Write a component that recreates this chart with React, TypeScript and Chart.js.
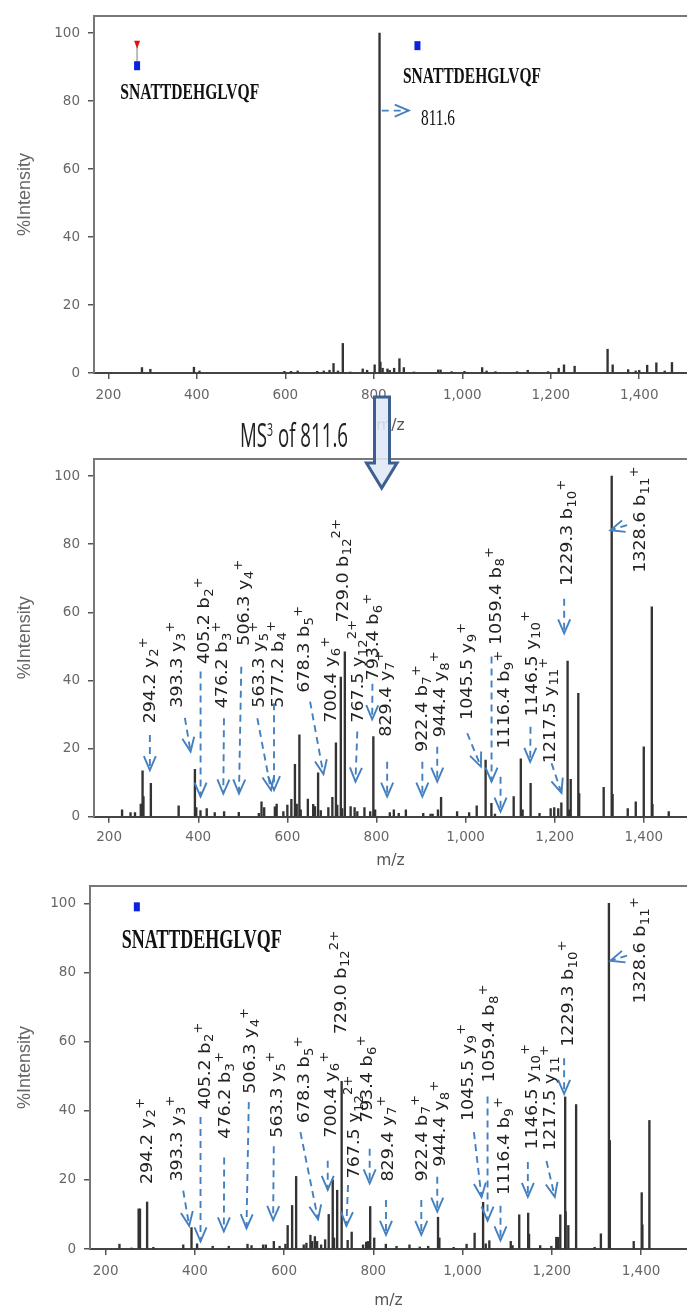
import React, { useEffect, useRef } from "react";
import { Chart, registerables } from "chart.js";
Chart.register(...registerables);

const TICK_FONT = "DejaVu Sans";
const xTicks = [200, 400, 600, 800, 1000, 1200, 1400];
const yTicks = [0, 20, 40, 60, 80, 100];
const PEPTIDE = "SNATTDEHGLVQF";
const PRECURSOR = "811.6";

// Panel 1: MS2 spectrum
const mz1 = [276,295,393.5,406,598,613,628,672,687,700,709,719,730,747,775,785,802,813,815,820,831,836,846,858,868,891,945.5,951,976,1005,1045,1055,1075,1124,1148,1194,1218,1230,1254,1328.5,1340,1375,1392,1400,1418,1438.7,1457.6,1474];
const int1 = [1.6,1.1,1.7,0.6,0.5,0.5,0.6,0.5,0.6,0.8,2.8,0.6,8.7,0.3,1.2,0.8,2.4,100,3.2,1.4,1.2,0.8,1.4,4.2,1.6,0.3,0.9,0.9,0.4,0.5,1.6,0.6,0.4,0.4,0.8,0.4,1.4,2.4,2,7,2.4,1,0.6,0.8,2.3,3,0.6,3.1];

// Panel 2: MS3 of 811.6
const mz2 = [229,248,258,271,275,277,293.6,356,392.5,395.5,405,419,437,458,491,536,542,548,572,576,591,600,609,617,621,627,630,646,658,662,669,675,692,701,709,712,720,723,729,742,751,757,773,786,793,797,830,839,850,866,905,921.5,926,938,945,981,1008,1025,1045,1058,1066,1108,1124,1128,1146,1166,1191,1199,1208,1215,1229,1232.5,1236,1253,1255,1310,1328,1330,1364,1382,1400,1418,1419.5,1456];
const int2 = [2,1.2,1.2,3.7,13.5,5.9,9.8,3.2,13.9,2.7,1.8,2.4,1.2,1.5,1.3,1,4.4,2.7,2.9,3.7,1.5,3.4,5.1,15.4,3.7,24,2,5.2,3.6,3,12.9,1.8,2.7,5.7,21.7,3.4,41,2.4,48.4,3,2.7,1.5,2.7,1.5,23.5,2,1.2,2,1,2,1,0.8,0.8,2,5.7,1.5,1.2,3.2,16.6,3.9,0.8,5.9,17,2,9.8,1,2.4,2.7,2.4,4.1,45.7,2,11,36.2,6.8,8.6,100,6.6,2.4,4.4,20.5,61.6,3.6,1.5];

// Panel 3: reference spectrum
const mz3 = [231,258,274,277,293,307,374,392.5,405,440,476,518,527,553,559,577,590,603,608,618,627,644,650,659,663,669,674,683,692,700,709,712,719,729,742.5,751.5,777,784,788,793,802,828,852,881,904,923,945,948,980,1009,1027,1046,1052,1060,1108,1112,1127,1147,1149,1174,1199,1210,1214,1219,1230,1231,1237,1254.5,1296,1310,1328,1330,1383.6,1401.5,1403,1418.7];
const int3 = [1.4,0.3,11.6,11.6,13.6,0.5,1.2,6.2,1.5,0.8,0.8,1.4,1,1.2,1.2,2.2,0.8,1.4,6.8,12.6,21,1.2,1.7,4,2.2,3.6,2.2,1.2,2.7,10,20,3.2,17,48.5,2.5,4.9,1.2,2,2.2,12.3,3.2,1.4,0.8,1.2,0.6,0.8,9.2,3.2,0.5,1.4,4.6,13.5,1.5,2.4,2.2,1,9.9,10.4,4.3,1,0.8,3.4,3.4,9.9,44,10.8,6.8,41.8,0.5,4.4,100,31.4,2.2,16.3,7,37.2];

// Fragment labels: [main text, subscript, superscript, m/z anchor, % anchor]
type Lab = [string, string, string, number, number];
const labels2: Lab[] = [
  ["294.2 y","2","+",289,27.4],["393.3 y","3","+",350,32],["405.2 b","2","+",411,44.8],["476.2 b","3","+",452,31.8],
  ["506.3 y","4","+",501,50.2],["563.3 y","5","+",535,32],["577.2 b","4","+",576,32],["678.3 b","5","+",636,36.4],
  ["700.4 y","6","+",696,27.6],["729.0 b","12","2+",722,57],["767.5 y","12","2+",757,27.6],["793.4 b","6","+",791,40],
  ["829.4 y","7","+",819,23.5],["922.4 b","7","+",900,19],["944.4 y","8","+",941,23.3],["1045.5 y","9","+",1002,28.4],
  ["1059.4 b","8","+",1066,50.4],["1116.4 b","9","+",1084.5,20],["1146.5 y","10","+",1146.5,29.4],["1217.5 y","11","+",1187,15.7],
  ["1229.3 b","10","+",1226.5,67.7],["1328.6 b","11","+",1389.5,71.6],
];
const labels3: Lab[] = [
  ["294.2 y","2","+",290,18.8],["393.3 y","3","+",356.7,19.5],["405.2 b","2","+",419.4,40.4],["476.2 b","3","+",465.7,31.9],
  ["506.3 y","4","+",521.6,44.9],["563.3 y","5","+",581,32.2],["678.3 b","5","+",642.5,36.4],["700.4 y","6","+",702,32.2],
  ["729.0 b","12","2+",724.6,62.1],["767.5 y","12","2+",754.5,20.4],["793.4 b","6","+",784,36.7],["829.4 y","7","+",829.9,19.5],
  ["922.4 b","7","+",906,19.5],["944.4 y","8","+",947.8,23.8],["1045.5 y","9","+",1009,37],["1059.4 b","8","+",1057.5,48.2],
  ["1116.4 b","9","+",1091,15.6],["1146.5 y","10","+",1153,28.8],["1217.5 y","11","+",1194,28.4],["1229.3 b","10","+",1235,58.5],
  ["1328.6 b","11","+",1395.5,71],
];

// Dashed arrows: [from m/z, from %, tip m/z, tip %]
type Arr = [number, number, number, number];
const arrows1: Arr[] = [[818,77.2,879,77.2]];
const arrows2: Arr[] = [
  [291.4,24,291.4,13.7],[370,29,382.8,19.1],[405.2,42.6,405.2,5.9],[457.7,28.9,456.2,6.8],[496.6,44,491.4,6.8],
  [532.6,28.9,563.3,7.8],[570,33.3,570,7.8],[651,33.8,681,12.5],[757,25,752.8,10.3],[791,39,790.3,28.6],
  [824,16.1,824,5.9],[903,16.1,903,5.9],[936.4,20.5,936.4,10.3],[1003.7,24.5,1034.4,14.7],[1058.3,47,1058.3,10.3],
  [1078.5,11.7,1078.5,1.5],[1145.8,26.4,1145,16.1],[1193,15.7,1215.3,7],[1221.3,64,1221.3,53.8],[1362.6,85.6,1325.2,84.1],
];
const arrows3: Arr[] = [
  [373.9,16.9,387.3,6.7],[412.7,38.2,412.7,2.2],[465.7,26.5,465,5.1],[520.9,42.5,515.7,6],[576.9,29.7,575.4,8.4],
  [636.6,33.8,676.1,8.6],[697.8,25.5,697.8,17.1],[743.3,18.5,739.6,6.7],[791.8,29,791.8,19],[828.4,14.2,828.4,4.1],
  [907.5,14.2,907.5,4.1],[943.3,20.9,943.3,10.8],[1025.4,33.8,1042.5,15],[1056,44.1,1056,8.2],[1085,12.5,1085,2.5],
  [1146.3,25.2,1146.3,15.1],[1188,25.5,1206.7,15.1],[1227.6,55.2,1227.6,44.9],[1368.7,84.9,1331.3,83.4],
];

// Serif captions: [text, m/z, %, bold, font px, fitted width]
type Cap = [string, number, number, boolean, number, number];
const captions1: Cap[] = [[PEPTIDE,227,80.6,true,24,139],[PEPTIDE,866,85.4,true,24,138],[PRECURSOR,906.7,73,false,24,34]];
const captions2: Cap[] = [];
const captions3: Cap[] = [[PEPTIDE,236,87,true,27,160]];

// Glycan symbols: [kind, m/z, %]
type Sym = ["blue" | "red", number, number];
const symbols1: Sym[] = [["red",265,96.6],["blue",265,90.4],["blue",898.7,96.3]];
const symbols2: Sym[] = [];
const symbols3: Sym[] = [["blue",270,99]];

const overlay = {
  id: "overlay",
  afterDraw(chart: any, _a: any, o: any) {
    const { ctx, chartArea, scales } = chart;
    const { x, y } = scales;
    ctx.save();
    ctx.strokeStyle = "#777";
    ctx.lineWidth = 2;
    ctx.beginPath();
    ctx.moveTo(chartArea.left - 1, chartArea.top);
    ctx.lineTo(chartArea.right, chartArea.top);
    ctx.stroke();

    // fragment labels, stretched along the reading direction like the reference
    for (const [main, sub, sup, m, p] of o.labels as Lab[]) {
      ctx.save();
      ctx.translate(x.getPixelForValue(m), y.getPixelForValue(p));
      ctx.rotate(-Math.PI / 2);
      ctx.scale(1.06, 1);
      ctx.fillStyle = "#222";
      ctx.textAlign = "left";
      ctx.textBaseline = "alphabetic";
      ctx.font = `16.5px "${TICK_FONT}"`;
      ctx.fillText(main, 0, 6);
      let dx = ctx.measureText(main).width + 0.5;
      ctx.font = `12.5px "${TICK_FONT}"`;
      ctx.fillText(sub, dx, 9.5);
      dx += ctx.measureText(sub).width;
      ctx.fillText(sup, dx, -1.5);
      ctx.restore();
    }

    // dashed arrows
    ctx.strokeStyle = "#4480c0";
    ctx.lineWidth = 1.9;
    for (const [m0, p0, m1, p1] of o.arrows as Arr[]) {
      const x0 = x.getPixelForValue(m0), y0 = y.getPixelForValue(p0);
      const x1 = x.getPixelForValue(m1), y1 = y.getPixelForValue(p1);
      const len = Math.hypot(x1 - x0, y1 - y0) || 1;
      const ux = (x1 - x0) / len, uy = (y1 - y0) / len;
      ctx.setLineDash([7, 5]);
      ctx.beginPath();
      ctx.moveTo(x0, y0);
      ctx.lineTo(x1, y1);
      ctx.stroke();
      ctx.setLineDash([]);
      ctx.beginPath();
      ctx.moveTo(x1 - ux * 14 - uy * 6, y1 - uy * 14 + ux * 6);
      ctx.lineTo(x1, y1);
      ctx.lineTo(x1 - ux * 14 + uy * 6, y1 - uy * 14 - ux * 6);
      ctx.stroke();
    }

    // serif captions
    ctx.fillStyle = "#111";
    for (const [t, m, p, bold, size, w] of o.captions as Cap[]) {
      ctx.font = `${bold ? "bold " : ""}${size}px "Liberation Serif"`;
      ctx.textAlign = "left";
      ctx.textBaseline = "alphabetic";
      ctx.fillText(t, x.getPixelForValue(m), y.getPixelForValue(p), w);
    }

    // glycan symbols
    for (const [kind, m, p] of o.symbols as Sym[]) {
      const px = x.getPixelForValue(m), py = y.getPixelForValue(p);
      if (kind === "blue") {
        ctx.fillStyle = "#0a22e0";
        ctx.fillRect(px - 3, py - 4.5, 6, 9);
      } else {
        ctx.strokeStyle = "#bbb";
        ctx.lineWidth = 2;
        ctx.beginPath();
        ctx.moveTo(px, py + 2);
        ctx.lineTo(px, py + 17);
        ctx.stroke();
        ctx.fillStyle = "#e01010";
        ctx.beginPath();
        ctx.moveTo(px - 3, py - 4);
        ctx.lineTo(px + 3, py - 4);
        ctx.lineTo(px, py + 4);
        ctx.closePath();
        ctx.fill();
      }
    }
    ctx.restore();
  },
};

type PanelProps = {
  top: number; height: number; plotTop: number; plotBottom: number; plotLeft: number;
  xMin: number; xMax: number; mz: number[]; intensity: number[];
  labels: Lab[]; arrows: Arr[]; captions: Cap[]; symbols: Sym[];
  tickPad: number; titlePad: number;
};

function Panel(p: PanelProps) {
  const ref = useRef<HTMLCanvasElement>(null);
  useEffect(() => {
    const chart = new Chart(ref.current!, {
      type: "bar",
      data: {
        datasets: [{
          data: p.mz.map((v, i) => ({ x: v, y: p.intensity[i] })),
          backgroundColor: "#333",
          barThickness: 1.7,
        }],
      },
      options: {
        animation: false,
        responsive: false,
        maintainAspectRatio: false,
        layout: { padding: { top: p.plotTop, left: 0, right: 0, bottom: 0 } },
        plugins: {
          legend: { display: false },
          tooltip: { enabled: false },
          overlay: { labels: p.labels, arrows: p.arrows, captions: p.captions, symbols: p.symbols },
        } as any,
        scales: {
          x: {
            type: "linear",
            offset: false,
            min: p.xMin,
            max: p.xMax,
            afterFit(s: any) { s.height = p.height - p.plotBottom; },
            afterBuildTicks(s: any) { s.ticks = xTicks.map((value) => ({ value })); },
            grid: { offset: false, drawOnChartArea: false, drawTicks: true, tickLength: 6, color: "#555", lineWidth: 1.5 },
            border: { display: true, color: "#444", width: 2 },
            ticks: { padding: p.tickPad, color: "#666", font: { family: TICK_FONT, size: 13.5 }, autoSkip: false, maxRotation: 0, includeBounds: false },
            title: { display: true, text: "m/z", color: "#555", font: { family: TICK_FONT, size: 15.5 }, padding: { top: 0, bottom: p.titlePad } },
          },
          y: {
            min: 0,
            max: 105,
            afterFit(s: any) { s.width = p.plotLeft; },
            afterBuildTicks(s: any) { s.ticks = yTicks.map((value) => ({ value })); },
            grid: { drawOnChartArea: false, drawTicks: true, tickLength: 6, color: "#555", lineWidth: 1.5 },
            border: { display: true, color: "#777", width: 2 },
            ticks: { padding: 8, color: "#666", font: { family: TICK_FONT, size: 13.5 }, includeBounds: false },
            title: { display: true, text: "%Intensity", color: "#666", font: { family: "Liberation Sans", size: 18 }, padding: { top: 14, bottom: 0 } },
          },
        },
      },
      plugins: [overlay],
    } as any);
    return () => chart.destroy();
  }, []);
  return (
    <canvas
      ref={ref}
      width={687}
      height={p.height}
      style={{ position: "absolute", left: 0, top: p.top, width: 687, height: p.height, filter: "blur(0.45px)" }}
    />
  );
}

export default function App() {
  return (
    <div style={{ position: "absolute", left: 0, top: 0, width: 687, height: 1311, overflow: "hidden", background: "#fff" }}>
      <Panel top={0} height={440} plotTop={14} plotBottom={373} plotLeft={94} xMin={167.6} xMax={1508} mz={mz1} intensity={int1}
        labels={[]} arrows={arrows1} captions={captions1} symbols={symbols1} tickPad={8} titlePad={5} />
      <Panel top={440} height={430} plotTop={19} plotBottom={376.7} plotLeft={94} xMin={166} xMax={1497} mz={mz2} intensity={int2}
        labels={labels2} arrows={arrows2} captions={captions2} symbols={symbols2} tickPad={7} titlePad={0} />
      <Panel top={870} height={441} plotTop={14.7} plotBottom={379} plotLeft={90} xMin={165} xMax={1503} mz={mz3} intensity={int3}
        labels={labels3} arrows={arrows3} captions={captions3} symbols={symbols3} tickPad={8} titlePad={1} />
      <svg width={687} height={1311} style={{ position: "absolute", left: 0, top: 0, pointerEvents: "none" }}>
        <path d="M374.5 397 H389.5 V463 H397 L381.7 488 L366.5 463 H374.5 Z" fill="rgba(222,232,246,0.88)" stroke="#3e6090" strokeWidth={3} />
        <text x={240} y={446.5} fontFamily="Open Sans" fontSize={32} fill="#222" textLength={108} lengthAdjust="spacingAndGlyphs">
          MS<tspan fontSize={18} dy={-11}>3</tspan><tspan dy={11}> of 811.6</tspan>
        </text>
      </svg>
    </div>
  );
}
